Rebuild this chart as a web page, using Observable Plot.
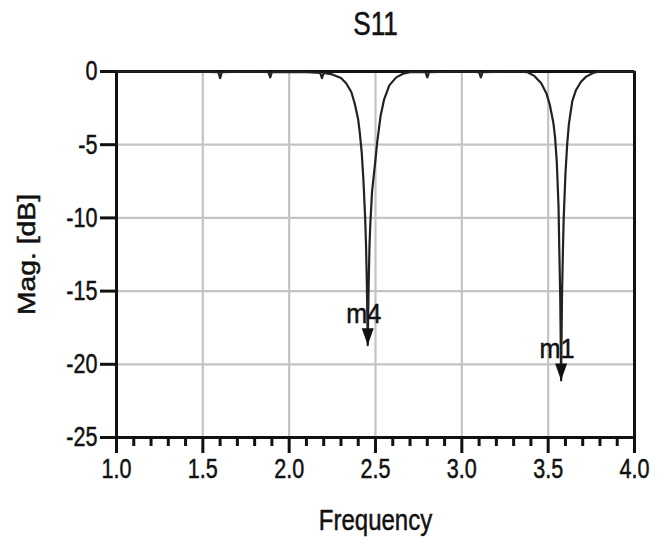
<!DOCTYPE html>
<html>
<head>
<meta charset="utf-8">
<script src="https://cdn.jsdelivr.net/npm/d3@7"></script>
<script src="https://cdn.jsdelivr.net/npm/@observablehq/plot@0.6"></script>
<style>
  html, body { margin: 0; padding: 0; background: #fff; }
  svg { display: block; }
</style>
</head>
<body>
<div id="chart"></div>
<script>
// S11 trace: frequency (GHz) and magnitude (dB)
const freq = [
  1.00, 1.20, 1.40, 1.59, 1.60, 1.61, 1.80, 1.88, 1.89, 1.90, 2.10, 2.18, 2.19, 2.20,
  2.25, 2.30, 2.33, 2.36, 2.38, 2.40, 2.41, 2.42, 2.43, 2.44, 2.445, 2.45, 2.455,
  2.46, 2.465, 2.47, 2.48, 2.50, 2.51, 2.53, 2.55, 2.58, 2.62, 2.66, 2.70,
  2.79, 2.80, 2.81, 3.00, 3.10, 3.11, 3.12, 3.30, 3.38,
  3.42, 3.46, 3.49, 3.51, 3.53, 3.54, 3.55, 3.56, 3.565, 3.57, 3.575,
  3.58, 3.585, 3.59, 3.60, 3.61, 3.62, 3.64, 3.66, 3.69, 3.72, 3.76, 3.80, 3.90, 4.00
];
const mag = [
  0.00, 0.00, 0.00, -0.05, -0.45, -0.05, 0.00, -0.05, -0.40, -0.05, -0.05, -0.10, -0.45, -0.10,
  -0.20, -0.45, -0.80, -1.40, -2.20, -3.30, -4.30, -5.50, -7.40, -10.0, -11.8, -14.5, -18.7,
  -14.8, -12.0, -10.4, -8.20, -6.00, -4.80, -3.00, -1.90, -0.95, -0.40, -0.15, -0.05,
  -0.05, -0.40, -0.05, 0.00, -0.05, -0.40, -0.05, 0.00, -0.05,
  -0.30, -0.80, -1.50, -2.30, -3.50, -4.50, -6.20, -9.20, -12.5, -15.5, -21.1,
  -15.5, -12.5, -10.0, -7.00, -5.00, -3.60, -2.00, -1.30, -0.70, -0.35, -0.10, 0.00, 0.00, 0.00
];

// markers
const markerNames = ["m4", "m1"];
const markerFreq = [2.455, 3.575];
const markerMag = [-18.7, -21.1];

// axes
const xTicks = [1.0, 1.5, 2.0, 2.5, 3.0, 3.5, 4.0];
const xMinorTicks = [1.1, 1.2, 1.3, 1.4, 1.6, 1.7, 1.8, 1.9, 2.1, 2.2, 2.3, 2.4, 2.6, 2.7, 2.8, 2.9,
                     3.1, 3.2, 3.3, 3.4, 3.6, 3.7, 3.8, 3.9];
const yTicks = [0, -5, -10, -15, -20, -25];
const xGrid = [1.5, 2.0, 2.5, 3.0, 3.5];
const yGrid = [-5, -10, -15, -20];

const title = "S11";
const xLabel = "Frequency";
const yLabel = "Mag. [dB]";

const trace = freq.map((f, i) => ({f, m: mag[i]}));
const markers = markerNames.map((n, i) => ({name: n, f: markerFreq[i], m: markerMag[i]}));

const font = "Arial, 'Liberation Sans', sans-serif";

// narrow downward arrowhead with its tip at the data point
const arrowHead = {
  draw(context, size) {
    context.moveTo(0, 0);
    context.lineTo(-6, -17);
    context.lineTo(6, -17);
    context.closePath();
  }
};

const chart = Plot.plot({
  width: 662,
  height: 539,
  marginLeft: 116,
  marginRight: 28,
  marginTop: 71,
  marginBottom: 102,
  style: {fontFamily: font, background: "#fff", color: "#111"},
  x: {domain: [1, 4]},
  y: {domain: [-25, 0]},
  marks: [
    Plot.ruleX(xGrid, {stroke: "#c4c4c4", strokeWidth: 2.2}),
    Plot.ruleY(yGrid, {stroke: "#c4c4c4", strokeWidth: 2.2}),
    Plot.axisX(xMinorTicks, {tickSize: 9, strokeWidth: 3, text: null, label: null, stroke: "#111"}),
    Plot.axisX(xTicks, {tickSize: 16, strokeWidth: 3, tickPadding: 5, fontSize: 28,
      tickFormat: d => d.toFixed(1), label: null, fill: "#111", stroke: "#111"}),
    Plot.axisY(yTicks, {tickSize: 16, strokeWidth: 3, tickPadding: 3, fontSize: 28,
      tickFormat: d => String(d), label: null, fill: "#111", stroke: "#111"}),
    Plot.ruleX([1, 4], {stroke: "#111", strokeWidth: 3}),
    Plot.ruleY([-25, 0], {stroke: "#111", strokeWidth: 3}),
    Plot.line(trace, {x: "f", y: "m", stroke: "#222", strokeWidth: 2.2, curve: "linear"}),
    Plot.dot(markers, {x: "f", y: "m", symbol: arrowHead, r: 5, fill: "#111", stroke: "none"}),
    Plot.text(markers, {x: "f", y: "m", text: "name", dy: -31, dx: -4, fontSize: 28,
      fill: "#111", fontFamily: font}),
    Plot.text([title], {frameAnchor: "top", lineAnchor: "middle", dy: -47, fontSize: 34,
      fill: "#111", fontFamily: font}),
    Plot.text([xLabel], {frameAnchor: "bottom", lineAnchor: "middle", dy: 83, fontSize: 30,
      fill: "#111", fontFamily: font}),
    Plot.text([yLabel], {frameAnchor: "left", textAnchor: "middle", lineAnchor: "middle",
      dx: -89, rotate: -90, fontSize: 24, fill: "#111", fontFamily: font})
  ]
});

// The reference is drawn with tall, narrow lettering: squeeze the text along its baseline.
const stretch = {[yLabel]: 1.18, [xLabel]: 0.8, "m4": 0.9, "m1": 0.9};
chart.querySelectorAll("text").forEach(t => {
  const s = stretch[t.textContent] ?? 0.77;
  const xa = t.getAttribute("x");
  const x = xa !== null && isFinite(+xa) ? +xa : 0;
  if (xa !== null && isFinite(+xa)) t.removeAttribute("x");
  const tr = t.getAttribute("transform") || "";
  t.setAttribute("transform", `${tr} translate(${x},0) scale(${s},1)`);
  t.style.stroke = "#111";
  t.style.strokeWidth = "0.5px";
});
document.getElementById("chart").appendChild(chart);
</script>
</body>
</html>
